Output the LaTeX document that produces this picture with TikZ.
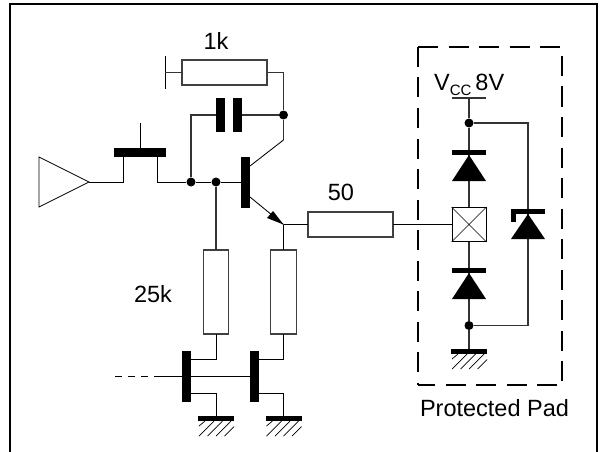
\documentclass[tikz,border=0pt]{standalone}
\usepackage{fontspec}
\setmainfont{Liberation Sans}
\tikzset{
  wire/.style={line width=1.1pt,draw=black!80},
  thin wire/.style={line width=0.85pt,draw=black},
  res/.style={draw=black!75,line width=1.15pt,fill=white,inner sep=0pt,outer sep=0pt},
  hres/.style={res,minimum width=85pt,minimum height=25pt},
  vres/.style={res,minimum width=25.5pt,minimum height=84pt},
  bar/.style={fill=black,inner sep=0pt,outer sep=0pt},
  hbar/.style={bar,minimum width=34pt,minimum height=5pt},
  vbar/.style={bar,minimum width=9pt,minimum height=51pt},
  gbar/.style={bar,minimum width=36pt,minimum height=5.5pt},
  dot/.style={circle,fill=black,inner sep=0pt,minimum size=9pt},
  lab/.style={font=\fontsize{23.5}{25}\selectfont,inner sep=0pt},
  dashline/.style={line width=2.6pt,dash pattern=on 20pt off 10.5pt},
  tri/.style={fill=black,draw=none}
}
\newcommand{\hatchat}[2]{%
  \draw[line width=0.7pt] (#1-17,#2+5) -- (#1-11,#2)
    (#1-17,#2+15) -- (#1-2,#2)
    (#1-8.5,#2+15) -- (#1+6.5,#2)
    (#1,#2+15) -- (#1+15,#2)
    (#1+8.5,#2+15) -- (#1+18,#2+5.5);}
\begin{document}
\begin{tikzpicture}[x=1pt,y=-1pt]
\useasboundingbox (0,0) rectangle (600,452);
% frame
\coordinate (fbl) at (10,452);
\coordinate (ftl) at (10,4);
\coordinate (ftr) at (597,4);
\coordinate (fbr) at (597,452);
\draw[line width=2.5pt] (fbl) -- (ftl) -- (ftr) -- (fbr);
% input buffer
\coordinate (bufA) at (39,157);
\coordinate (bufB) at (39,207);
\coordinate (bufO) at (89,182);
\draw[thin wire] (bufA) -- (bufO) -- (bufB) -- cycle;
% MOS pass device
\node[bar,minimum width=52pt,minimum height=9pt] (pass) at (140,152.5) {};
\coordinate (passTop) at (140,123);
\draw[thin wire] (passTop) -- (pass);
\coordinate (passL) at (123,157);
\coordinate (passR) at (157,157);
\node[dot] (j1) at (191,182) {};
\node[dot] (j2) at (216,182) {};
\node[vbar] (base) at (245.5,182) {};
\draw[thin wire] (bufO) -| (passL);
\draw[thin wire] (passR) |- (j1);
\draw[thin wire] (j1) -- (j2) -- (base);
% feedback capacitor
\node[bar,minimum width=9pt,minimum height=34pt] (capL) at (220.5,115) {};
\node[bar,minimum width=9pt,minimum height=34pt] (capR) at (237.5,115) {};
\node[dot] (j3) at (283.5,115) {};
\draw[wire] (j1) |- (capL);
\draw[wire] (capR) -- (j3);
% 1k resistor
\node[hres] (r1k) at (224.5,72.5) {};
\node[lab] at (216,41) {1k};
\coordinate (stubT) at (165,56);
\coordinate (stubB) at (165,89);
\coordinate (stubM) at (165,72.5);
\draw[thin wire] (stubT) -- (stubB);
\draw[wire] (stubM) -- (r1k);
\coordinate (colTop) at (283.5,140);
\coordinate (colBar) at (250,166);
\draw[wire] (r1k.east) -| (j3);
\draw[wire] (j3) -- (colTop);
\draw[thin wire] (colTop) -- (colBar);
% emitter
\coordinate (emBar) at (250,197);
\coordinate (emTip) at (283.5,224.5);
\coordinate (emA) at (267,218);
\coordinate (emB) at (273,211);
\draw[thin wire] (emBar) -- (emTip);
\fill[tri] (emTip) -- (emA) -- (emB) -- cycle;
% 50 ohm resistor
\node[hres,minimum width=85pt,minimum height=25pt] (r50) at (350.5,224.5) {};
\node[lab] at (341,192) {50};
\draw[thin wire] (emTip) -- (r50);
% pull-down resistors
\node[vres] (rA) at (216,292) {};
\node[vres] (rB) at (283.5,292) {};
\node[lab] at (153,294) {25k};
\draw[wire] (j2) -- (rA);
\draw[thin wire] (emTip) -- (rB);
% current mirror
\node[vbar] (mA) at (186.5,376.5) {};
\node[vbar] (mB) at (254,376.5) {};
\coordinate (inFar) at (115,376.5);
\coordinate (inNear) at (157,376.5);
\draw[thin wire,dash pattern=on 7pt off 6pt] (inFar) -- (inNear);
\draw[thin wire] (inNear) -- (mA.center) -- (mB.center);
\coordinate (dA) at (191,359);
\coordinate (sA) at (191,393);
\coordinate (dB) at (258.5,359);
\coordinate (sB) at (258.5,393);
\node[gbar] (gA) at (216,418.5) {};
\node[gbar] (gB) at (283.5,418.5) {};
\draw[thin wire] (rA) |- (dA);
\draw[thin wire] (sA) -| (gA);
\draw[thin wire] (rB) |- (dB);
\draw[thin wire] (sB) -| (gB);
\hatchat{216}{421}
\hatchat{283.5}{421}
% protected pad box
\coordinate (bTL) at (418,47);
\coordinate (bTR) at (560,47);
\coordinate (bRT) at (562,56);
\coordinate (bRB) at (562,381);
\coordinate (bBR) at (557,385);
\coordinate (bBL) at (418,385);
\draw[dashline] (bTL) -- (bTR);
\draw[dashline] (bTL) -- (bBL);
\draw[dashline] (bRT) -- (bRB);
\draw[dashline] (bBR) -- (bBL);
\node[lab] at (494.5,408) {Protected Pad};
% pad
\node[draw=black,line width=0.9pt,fill=white,inner sep=0pt,minimum width=34pt,minimum height=34pt] (pad) at (469,224.5) {};
\draw[line width=0.6pt] (pad.north west) -- (pad.south east) (pad.north east) -- (pad.south west);
\draw[thin wire] (r50) -- (pad);
% supply
\node[lab,anchor=base west] at (434,90) {V\raisebox{-5.5pt}{\fontsize{15}{15}\selectfont CC}\,8V};
\coordinate (vccL) at (452,98);
\coordinate (vccR) at (486,98);
\coordinate (vcc) at (469,98);
\draw[wire] (vccL) -- (vccR);
\node[dot] (jT) at (469,123) {};
\node[dot] (jB) at (469,325.5) {};
\coordinate (clT) at (528,123);
\coordinate (clB) at (528,325.5);
\draw[wire] (vcc) -- (jT);
\draw[wire] (jT) -- (pad.north);
\draw[wire] (pad.south) -- (jB);
\node[gbar] (gP) at (469,351.5) {};
\draw[wire] (jB) -- (gP);
\hatchat{469}{354}
\draw[wire] (jT) -- (clT) -- (clB) -- (jB);
% diodes
\node[hbar] (dT) at (469,152.5) {};
\fill[tri] (469,155) -- (452,181) -- (486,181) -- cycle;
\node[hbar] (dB) at (469,270.5) {};
\fill[tri] (469,273) -- (452,299) -- (486,299) -- cycle;
\node[hbar] (dZ) at (528,211.5) {};
\node[bar,minimum width=5pt,minimum height=12pt,anchor=north west] (dZh) at (511,210) {};
\fill[tri] (528,214) -- (511,239) -- (545,239) -- cycle;
\end{tikzpicture}
\end{document}
